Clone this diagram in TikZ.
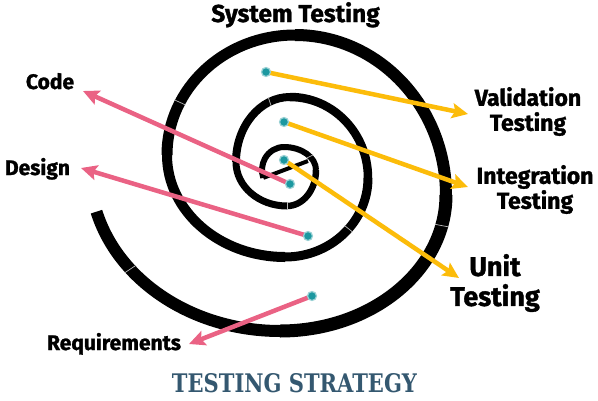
\documentclass[tikz,border=0pt]{standalone}
\usepackage{fontspec}
\setmainfont{Fira Sans}[BoldFeatures={FakeBold=1.3}]
\newfontfamily\stencilfont{DejaVu Serif}
\usetikzlibrary{arrows.meta,calc}
\definecolor{arrowyellow}{RGB}{252,188,10}
\definecolor{arrowpink}{RGB}{234,98,132}
\definecolor{dotteal}{RGB}{28,152,160}
\definecolor{titleblue}{RGB}{52,88,112}
\begin{document}
\begin{tikzpicture}[x=1pt,y=-1pt,
  ring/.style={draw=black,line width=#1,line cap=butt},
  sepline/.style={draw=gray!55,line width=0.7pt},
  dot/.style={circle,fill=dotteal,draw=dotteal!45,line width=1.2pt,minimum size=9pt,inner sep=0pt},
  yarrow/.style={draw=arrowyellow,line width=4.5pt,-{Stealth[length=16pt,width=15pt,inset=3pt]}},
  parrow/.style={draw=arrowpink,line width=4.5pt,-{Stealth[length=16pt,width=15pt,inset=3pt]}},
  lbl/.style={font=\bfseries\fontsize{21}{24}\selectfont,inner sep=0pt},
  rlbl/.style={font=\bfseries\fontsize{23}{25}\selectfont,inner sep=0pt,align=center},
]
\useasboundingbox (0,0) rectangle (598,400);
\fill[white] (0,0) rectangle (598,400);

% spiral made of quarter ellipses
\foreach \cx/\cy/\rx/\ry/\a/\b/\w in {
  280/170/190/161/165/90/12,
  280/195/166/136/90/0/13,
  295/195/151/160/0/-90/12,
  295/155/128/120/-90/-180/11,
  285/155/118/102/180/90/10,
  285/178/83/79/90/0/9,
  290/178/78/81/0/-90/8.5,
  290/162/54/65/-90/-180/8,
  287/162/51/44/180/90/7,
  287/170/29/36/90/0/6.5,
  284/170/32/23/0/-90/6,
  284/170/22/23/-90/-200/6}{
  \draw[ring=\w pt] (\cx,\cy) ++(\a:{\rx} and {\ry})
    arc[start angle=\a,end angle=\b,x radius=\rx,y radius=\ry];
}
% thin joints between the pieces
\foreach \cx/\cy/\rx/\ry/\t/\h in {
  280/170/190/161/142/6.5,
  280/195/166/136/13/7,
  295/155/128/120/206/6,
  285/178/83/79/40/5,
  290/162/54/65/-112/4.5,
  287/162/51/44/90/4,
  284/170/32/23/-36/3.5}{
  \coordinate (sp) at ($(\cx,\cy)+(\t:{\rx} and {\ry})$);
  \coordinate (sc) at (\cx,\cy);
  \draw[sepline] ($(sp)!\h pt!(sc)$) -- ($(sp)!-\h pt!(sc)$);
}
% central bar
\coordinate (spiralend) at ($(284,170)+(-200:{22} and {23})$);
\coordinate (barend) at (308,161);
\draw[ring=4pt] (spiralend) -- (barend);

% dot positions
\coordinate (p1) at (266,72);
\coordinate (p2) at (284,122);
\coordinate (p3) at (284,160);
\coordinate (p4) at (290,184);
\coordinate (p5) at (308,236);
\coordinate (p6) at (312,296);

% labels
\node[font=\bfseries\fontsize{24.5}{28}\selectfont,inner sep=0pt,anchor=base] (sys) at (295.5,22) {System Testing};
\node[lbl,anchor=base] (code) at (50,89) {Code};
\node[lbl,anchor=base] (design) at (37.5,175) {Design};
\node[lbl,anchor=base] (req) at (114,350) {Requirements};
\node[rlbl] (valid) at (528,111.5) {Validation\\Testing};
\node[rlbl] (integ) at (535,189.5) {Integration\\Testing};
\node[font=\bfseries\fontsize{27}{30}\selectfont,inner sep=0pt,align=center] (unit) at (495,283) {Unit\\Testing};
\node[anchor=base,text=titleblue,inner sep=0pt,font=\stencilfont\bfseries\fontsize{26}{30}\selectfont] (strat) at (294.5,392) {\resizebox{245pt}{19pt}{TESTING STRATEGY}};

% arrow tips
\coordinate (tv) at (468,114);
\coordinate (ti) at (468,187);
\coordinate (tu) at (459,278);
\coordinate (tc) at (83,91);
\coordinate (td) at (81,168);
\coordinate (tr) at (189,344);

\draw[yarrow] (p1) -- (tv);
\draw[yarrow] (p2) -- (ti);
\draw[yarrow] (p3) -- (tu);
\draw[parrow] (p4) -- (tc);
\draw[parrow] (p5) -- (td);
\draw[parrow] (p6) -- (tr);

\foreach \i in {1,...,6}{
  \node[dot] (d\i) at (p\i) {};
}
\end{tikzpicture}
\end{document}
